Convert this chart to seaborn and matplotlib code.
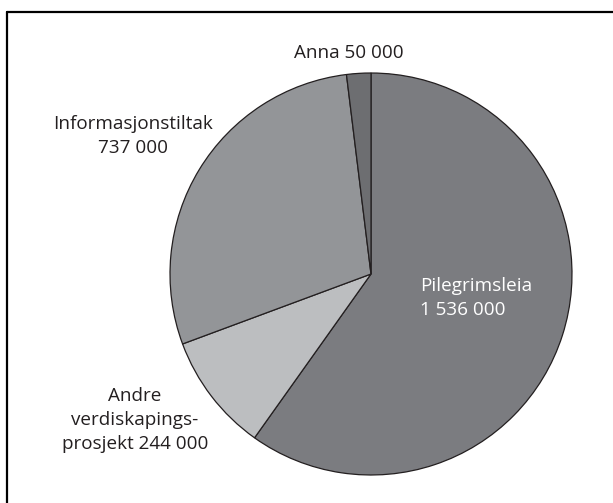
import matplotlib
matplotlib.use("Agg")
import matplotlib.pyplot as plt
import seaborn as sns
from matplotlib.lines import Line2D

# data (NOK), clockwise from 12 o'clock
labels = ["Pilegrimsleia", "Andre verdiskapingsprosjekt", "Informasjonstiltak", "Anna"]
values = [1536000, 244000, 737000, 50000]
colors = ["#7b7c80", "#bcbec0", "#939598", "#6d6e71"]

sns.set_theme(style="white")
plt.rcParams["font.family"] = ["Open Sans", "DejaVu Sans"]

W, H = 613, 503
fig = plt.figure(figsize=(W / 100, H / 100), dpi=100)

# pie axes: centre (371, 274), radius ~203 px
ax = fig.add_axes([168 / W, 26 / H, 406 / W, 406 / H])
ax.pie(values, colors=colors, startangle=90, counterclock=False, radius=1,
       wedgeprops=dict(edgecolor="#231f20", linewidth=0.9))
ax.set_xlim(-1.01, 1.01)
ax.set_ylim(-1.01, 1.01)
ax.set_aspect("equal")
ax.axis("off")

def px(x, y):
    return x / W, 1 - y / H

txt = "#231f20"
fs = 13.6
ls = 1.4
fig.text(*px(349, 53), "Anna 50 000", ha="center", va="center", fontsize=fs, color=txt)
fig.text(*px(133, 136), "Informasjonstiltak\n737 000", ha="center", va="center",
         fontsize=fs, color=txt, linespacing=ls)
fig.text(*px(135, 420), "Andre\nverdiskapings-\nprosjekt 244 000", ha="center", va="center",
         fontsize=fs, color=txt, linespacing=ls)
fig.text(*px(420, 298), "Pilegrimsleia\n1 536 000", ha="left", va="center",
         fontsize=fs, color="white", linespacing=ls)

# frame: only top and left edges are visible in the crop
fig.add_artist(Line2D([7 / W, 7 / W], [0, 1 - 12 / H], transform=fig.transFigure,
                      color="black", lw=1.6))
fig.add_artist(Line2D([7 / W, 1], [1 - 12 / H, 1 - 12 / H], transform=fig.transFigure,
                      color="black", lw=1.6))

fig.savefig("out.png", dpi=100, facecolor="white")
